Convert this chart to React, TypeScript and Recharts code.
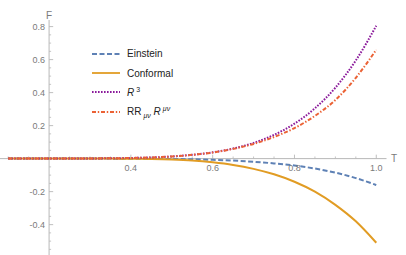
import React from 'react';
import { ComposedChart, Line, XAxis, YAxis, ReferenceLine, Legend } from 'recharts';

// ---- data ----
const T_VALUES = [0.1, 0.15, 0.2, 0.25, 0.3, 0.35, 0.4, 0.45, 0.5, 0.55, 0.6, 0.65, 0.7, 0.75, 0.8, 0.85, 0.9, 0.95, 1.0];
const EINSTEIN = [0, 0, 0, 0, 0, 0, -0.001, -0.001, -0.002, -0.004, -0.007, -0.012, -0.019, -0.029, -0.042, -0.06, -0.085, -0.118, -0.16];
const CONFORMAL = [0, 0, 0, 0, 0, 0, -0.001, -0.002, -0.005, -0.011, -0.022, -0.038, -0.062, -0.095, -0.14, -0.2, -0.28, -0.38, -0.51];
const R_CUBED = [0, 0, 0, 0, 0.001, 0.002, 0.004, 0.007, 0.013, 0.023, 0.038, 0.061, 0.095, 0.144, 0.212, 0.305, 0.43, 0.595, 0.805];
const RR_RR = [0, 0, 0, 0, 0.001, 0.002, 0.004, 0.007, 0.013, 0.023, 0.037, 0.059, 0.089, 0.131, 0.185, 0.259, 0.355, 0.49, 0.66];

const X_TICKS = [0.4, 0.6, 0.8, 1.0];
const X_TICK_LABELS = ['0.4', '0.6', '0.8', '1.0'];
const X_MINOR = [0.1, 0.15, 0.25, 0.3, 0.35, 0.45, 0.5, 0.55, 0.65, 0.7, 0.75, 0.85, 0.9, 0.95];
const Y_TICKS = [-0.4, -0.2, 0.2, 0.4, 0.6, 0.8];
const Y_TICK_LABELS = ['-0.4', '-0.2', '0.2', '0.4', '0.6', '0.8'];
const Y_MINOR = [-0.55, -0.5, -0.45, -0.35, -0.3, -0.25, -0.15, -0.1, -0.05, 0.05, 0.1, 0.15, 0.25, 0.3, 0.35, 0.45, 0.5, 0.55, 0.65, 0.7, 0.75];

const X_DOMAIN: [number, number] = [0.08, 1.025];
const Y_DOMAIN: [number, number] = [-0.584, 0.84];
const Y_AXIS_AT = 0.2;

const data = T_VALUES.map((t, i) => ({
  T: t,
  einstein: EINSTEIN[i],
  conformal: CONFORMAL[i],
  r3: R_CUBED[i],
  rr: RR_RR[i],
}));

const SERIES = [
  { key: 'einstein', color: '#5E81B5', dash: '5 2.5', label: <span>Einstein</span> },
  { key: 'conformal', color: '#E19C24', dash: undefined, label: <span>Conformal</span> },
  { key: 'r3', color: '#8B1A9B', dash: '1.6 1.4', label: <span><i>R</i><sup style={{ fontSize: 7, marginLeft: 2 }}>3</sup></span> },
  {
    key: 'rr', color: '#EB6235', dash: '4 1.8 1.4 1.8',
    label: (
      <span>RR<sub style={{ fontSize: 7, fontStyle: 'italic', marginLeft: 2 }}>μν</sub> <i>R</i>
        <sup style={{ fontSize: 7, fontStyle: 'italic', marginLeft: 2 }}>μν</sup></span>
    ),
  },
];

const AXIS_COLOR = '#b8b8b8';
const LABEL_COLOR = '#7a7a7a';
const MAJOR_X_LEN = 0.024; // in F units (~4px)
const MINOR_X_LEN = 0.013;
const MAJOR_Y_LEN = 0.01; // in T units (~4px)
const MINOR_Y_LEN = 0.005;

const LegendContent = () => (
  <div style={{ fontFamily: '"Liberation Sans", Arial, sans-serif', fontSize: 10, color: '#222' }}>
    {SERIES.map((s) => (
      <div key={s.key} style={{ display: 'flex', alignItems: 'center', height: 19.4 }}>
        <svg width={28} height={4} style={{ marginRight: 7 }}>
          <line x1={0} y1={2} x2={28} y2={2} stroke={s.color} strokeWidth={1.8} strokeDasharray={s.dash} />
        </svg>
        {s.label}
      </div>
    ))}
  </div>
);

export default function App() {
  return (
    <div style={{ position: 'absolute', left: 0, top: 0, width: 406, height: 255, background: '#fff', fontFamily: '"Liberation Sans", Arial, sans-serif' }}>
      <ComposedChart width={406} height={255} data={data} margin={{ top: 20, right: 19.5, bottom: 0, left: 0 }}>
        <XAxis dataKey="T" type="number" domain={X_DOMAIN} allowDataOverflow hide />
        <YAxis type="number" domain={Y_DOMAIN} allowDataOverflow hide />
        <ReferenceLine y={0} stroke={AXIS_COLOR} strokeWidth={1}
          label={{ value: 'T', position: 'right', offset: 4.5, fill: LABEL_COLOR, fontSize: 10 }} />
        <ReferenceLine x={Y_AXIS_AT} stroke={AXIS_COLOR} strokeWidth={1}
          label={{ value: 'F', position: 'top', offset: 1.5, fill: LABEL_COLOR, fontSize: 10 }} />
        {X_MINOR.map((t) => (
          <ReferenceLine key={'xm' + t} segment={[{ x: t, y: 0 }, { x: t, y: MINOR_X_LEN }]} stroke={AXIS_COLOR} strokeWidth={0.8} />
        ))}
        {X_TICKS.map((t, i) => (
          <ReferenceLine key={'x' + t} segment={[{ x: t, y: 0 }, { x: t, y: MAJOR_X_LEN }]} stroke={AXIS_COLOR} strokeWidth={0.9}
            label={{ value: X_TICK_LABELS[i], position: 'bottom', offset: 5.5, fill: LABEL_COLOR, fontSize: 9 }} />
        ))}
        {Y_MINOR.map((v) => (
          <ReferenceLine key={'ym' + v} segment={[{ x: Y_AXIS_AT, y: v }, { x: Y_AXIS_AT + MINOR_Y_LEN, y: v }]} stroke={AXIS_COLOR} strokeWidth={0.8} />
        ))}
        {Y_TICKS.map((v, i) => (
          <ReferenceLine key={'y' + v} segment={[{ x: Y_AXIS_AT, y: v }, { x: Y_AXIS_AT + MAJOR_Y_LEN, y: v }]} stroke={AXIS_COLOR} strokeWidth={0.9}
            label={{ value: Y_TICK_LABELS[i], position: 'left', offset: 4, fill: LABEL_COLOR, fontSize: 9 }} />
        ))}
        {SERIES.map((s) => (
          <Line key={s.key} dataKey={s.key} type="monotone" stroke={s.color} strokeWidth={2}
            strokeDasharray={s.dash} dot={false} isAnimationActive={false} />
        ))}
        <Legend layout="vertical" align="center" verticalAlign="middle" content={LegendContent}
          wrapperStyle={{ position: 'absolute', left: 92, top: 44, width: 'auto', height: 'auto' }} />
      </ComposedChart>
    </div>
  );
}
